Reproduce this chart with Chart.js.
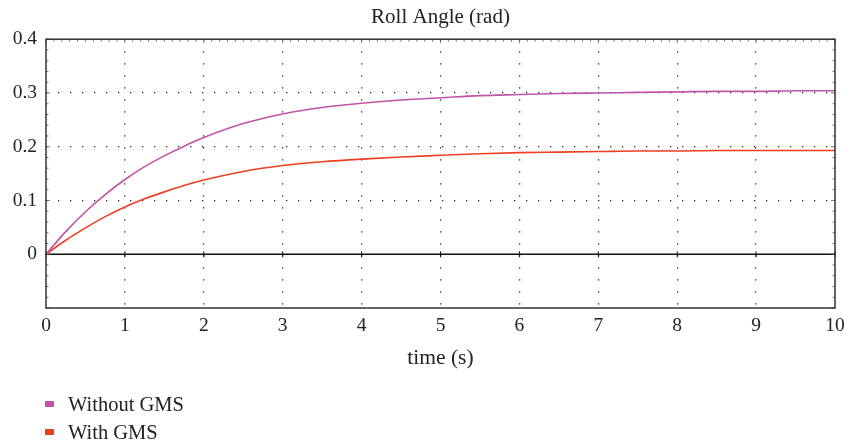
<!DOCTYPE html>
<html>
<head>
<meta charset="utf-8">
<script src="https://cdn.jsdelivr.net/npm/chart.js@4/dist/chart.umd.min.js"></script>
<style>
  html, body { margin: 0; padding: 0; background: #fff; }
  #wrap { position: relative; width: 844px; height: 445px; }
  #legend { position: absolute; left: 45px; top: 390px; font-family: "Liberation Serif", "DejaVu Serif", serif; font-size: 20.5px; color: #222; }
  #legend div { height: 28px; line-height: 28px; display: flex; align-items: center; }
  #legend span.sw { display: inline-block; width: 9px; height: 6px; margin-right: 14px; }
</style>
</head>
<body>
<div id="wrap">
  <canvas id="c" width="844" height="445"></canvas>
  <div id="legend"></div>
</div>
<script>
const timeS = [0,0.25,0.5,0.75,1,1.25,1.5,1.75,2,2.5,3,3.5,4,4.5,5,5.5,6,6.5,7,7.5,8,8.5,9,9.5,10];
const withoutGMS = [0,0.042,0.079,0.111,0.139,0.163,0.183,0.201,0.217,0.243,0.261,0.273,0.281,0.287,0.291,0.295,0.297,0.299,0.300,0.301,0.302,0.303,0.303,0.304,0.304];
const withGMS = [0,0.026,0.049,0.070,0.088,0.103,0.116,0.128,0.138,0.154,0.165,0.172,0.177,0.181,0.184,0.187,0.189,0.190,0.191,0.192,0.192,0.193,0.193,0.193,0.193];
const seriesNames = ["Without GMS", "With GMS"];
const seriesColors = ["#C254A8", "#EE3F22"];
const xTicks = [0,1,2,3,4,5,6,7,8,9,10];
const yTicks = [0,0.1,0.2,0.3,0.4];

const FONT = "'Liberation Serif', 'DejaVu Serif', serif";

const framePlugin = {
  id: 'frame',
  beforeDatasetsDraw(chart) {
    const {ctx, chartArea: a, scales: {x, y}} = chart;
    ctx.save();
    const y0 = y.getPixelForValue(0);
    ctx.strokeStyle = '#111';
    ctx.lineWidth = 1.3;
    ctx.beginPath(); ctx.moveTo(a.left, y0); ctx.lineTo(a.right, y0); ctx.stroke();
    ctx.lineWidth = 1;
    xTicks.forEach(v => {
      const px = x.getPixelForValue(v);
      ctx.beginPath(); ctx.moveTo(px, y0 - 3); ctx.lineTo(px, y0 + 3); ctx.stroke();
    });
    ctx.strokeStyle = '#555';
    ctx.lineWidth = 0.8;
    for (let i = 0; i <= 100; i++) {
      const px = x.getPixelForValue(i / 10);
      const len = (i % 10 === 0) ? 4 : 2.5;
      ctx.beginPath(); ctx.moveTo(px, a.top); ctx.lineTo(px, a.top + len); ctx.stroke();
    }
    for (let j = -5; j <= 20; j++) {
      const py = y.getPixelForValue(j * 0.02);
      const len = (j % 5 === 0) ? 4 : 2.5;
      ctx.beginPath(); ctx.moveTo(a.left, py); ctx.lineTo(a.left + len, py); ctx.stroke();
      ctx.beginPath(); ctx.moveTo(a.right, py); ctx.lineTo(a.right - len, py); ctx.stroke();
    }
    ctx.restore();
  },
  afterDraw(chart) {
    const {ctx, chartArea: a} = chart;
    ctx.save();
    ctx.strokeStyle = '#333';
    ctx.lineWidth = 1.5;
    ctx.strokeRect(a.left, a.top, a.right - a.left, a.bottom - a.top);
    ctx.restore();
  }
};

const datasets = [withoutGMS, withGMS].map((vals, k) => ({
  label: seriesNames[k],
  data: timeS.map((t, i) => ({x: t, y: vals[i]})),
  borderColor: seriesColors[k],
  backgroundColor: seriesColors[k],
  borderWidth: 1.6,
  pointRadius: 0,
  cubicInterpolationMode: 'monotone',
  fill: false
}));

const chart = new Chart(document.getElementById('c'), {
  type: 'line',
  data: { datasets },
  plugins: [framePlugin],
  options: {
    responsive: false,
    animation: false,
    events: [],
    layout: { padding: { left: 0, right: 9, top: 0, bottom: 57 } },
    plugins: {
      legend: { display: false },
      tooltip: { enabled: false },
      title: {
        display: true,
        fullSize: false,
        text: 'Roll Angle (rad)',
        color: '#222',
        font: { family: FONT, size: 21, weight: 'normal' },
        padding: { top: 5, bottom: 9 }
      }
    },
    scales: {
      x: {
        type: 'linear',
        min: 0, max: 10,
        afterFit(s) { s.height = 80; s.paddingRight = 0; s.paddingLeft = 0; },
        afterBuildTicks(s) { s.ticks = xTicks.map(v => ({value: v})); },
        grid: {
          drawTicks: false,
          color: c => (c.tick && (c.tick.value === 0 || c.tick.value === 10)) ? 'rgba(0,0,0,0)' : '#222',
          lineWidth: 1.3
        },
        border: { display: false, dash: [1.3, 10.7] },
        ticks: { color: '#222', padding: 6, font: { family: FONT, size: 19.5 }, maxRotation: 0 },
        title: { display: true, text: 'time (s)', color: '#222', font: { family: FONT, size: 21.5 }, padding: 17 }
      },
      y: {
        min: -0.1, max: 0.4,
        afterFit(s) { s.width = 46; },
        afterBuildTicks(s) { s.ticks = [-0.1].concat(yTicks).map(v => ({value: v})); },
        grid: {
          drawTicks: false,
          color: c => (c.tick && (Math.abs(c.tick.value) < 1e-9 || c.tick.value <= -0.1 + 1e-9 || c.tick.value >= 0.4 - 1e-9)) ? 'rgba(0,0,0,0)' : '#222',
          lineWidth: 1.3
        },
        border: { display: false, dash: [1.3, 10.7] },
        ticks: {
          color: '#222', padding: 9, font: { family: FONT, size: 19.5 },
          callback: v => (v < -1e-9 ? '' : (Math.abs(v) < 1e-9 ? '0' : String(Math.round(v * 10) / 10)))
        }
      }
    }
  }
});

const leg = document.getElementById('legend');
chart.data.datasets.forEach(ds => {
  const row = document.createElement('div');
  const sw = document.createElement('span');
  sw.className = 'sw';
  sw.style.background = ds.borderColor;
  row.appendChild(sw);
  row.appendChild(document.createTextNode(ds.label));
  leg.appendChild(row);
});
</script>
</body>
</html>
